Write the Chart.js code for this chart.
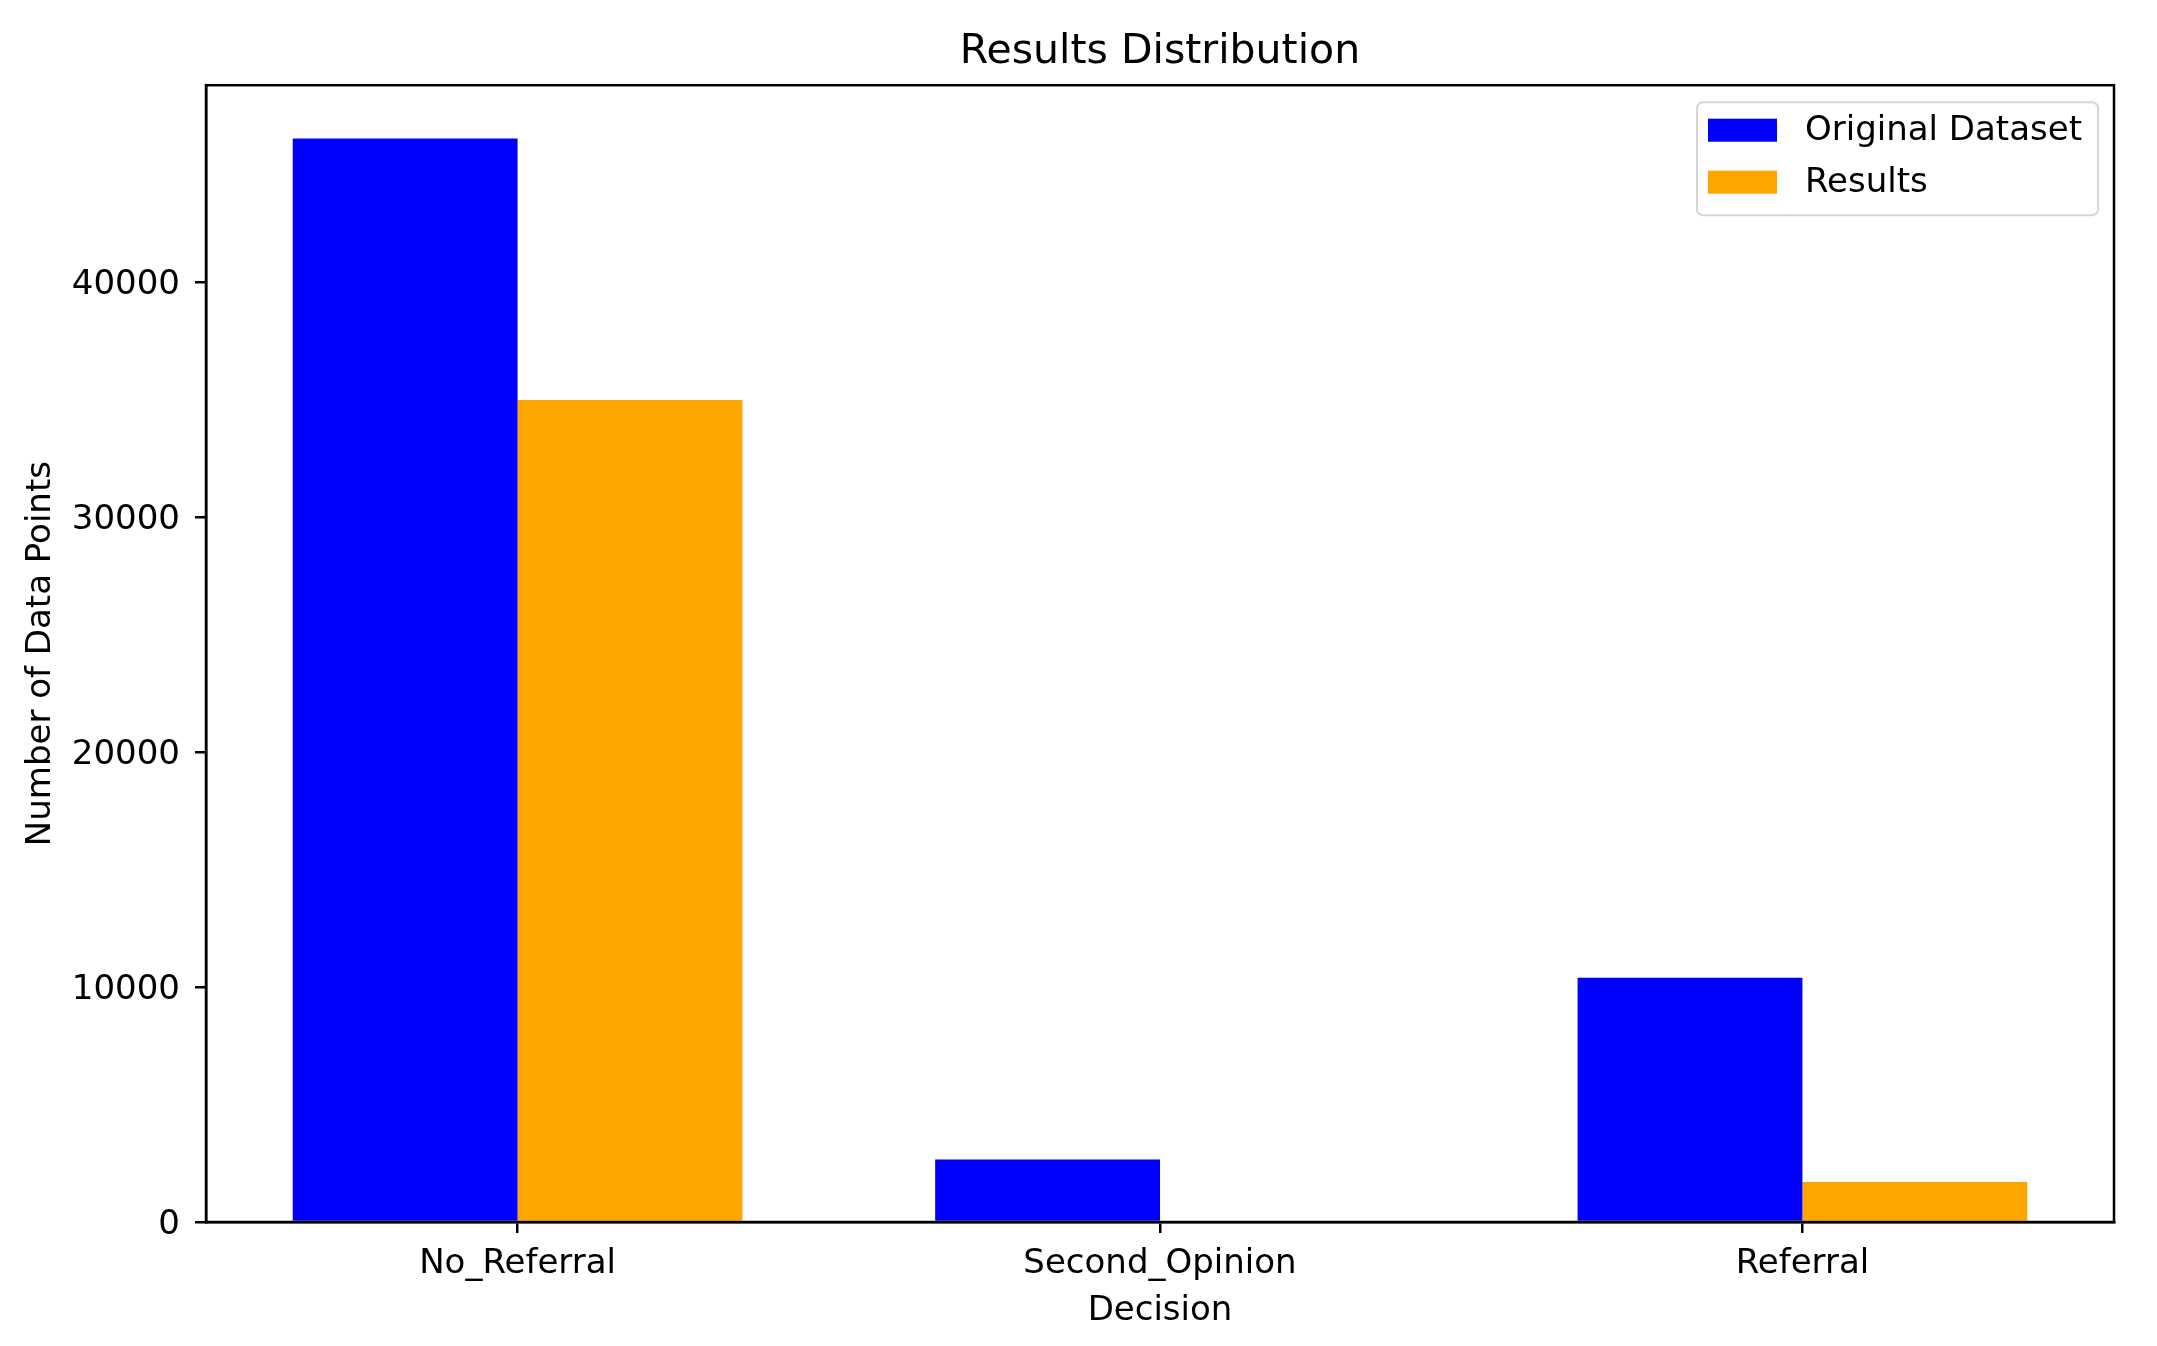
<!DOCTYPE html>
<html>
<head>
<meta charset="utf-8">
<script src="https://cdn.jsdelivr.net/npm/chart.js@4/dist/chart.umd.min.js"></script>
<style>
  html, body { margin: 0; padding: 0; background: #fff; }
  #wrap { width: 2157px; height: 1346px; position: relative; }
</style>
</head>
<body>
<div id="wrap"><canvas id="c" width="2157" height="1346"></canvas></div>
<script>
const categories = ['No_Referral', 'Second_Opinion', 'Referral'];
const seriesNames = ['Original Dataset', 'Results'];
const originalDataset = [46130, 2660, 10400];
const results = [35000, 0, 1700];
const yTicks = [0, 10000, 20000, 30000, 40000];

Chart.defaults.font.family = "'DejaVu Sans', sans-serif";
Chart.defaults.color = '#000';

const FS = 34;

const framePlugin = {
  id: 'frame',
  afterDatasetsDraw(chart) {
    const { ctx, chartArea: a } = chart;
    ctx.save();
    ctx.strokeStyle = '#000';
    ctx.lineWidth = 2.5;
    ctx.strokeRect(a.left, a.top, a.right - a.left, a.bottom - a.top);
    ctx.restore();
  }
};

const boxLegend = {
  id: 'boxLegend',
  afterDraw(chart) {
    const { ctx, chartArea: a } = chart;
    const w = 401, h = 113;
    const x = a.right - 16 - w, y = a.top + 17;
    ctx.save();
    ctx.beginPath();
    ctx.roundRect(x, y, w, h, 6);
    ctx.fillStyle = 'rgba(255,255,255,0.8)';
    ctx.fill();
    ctx.strokeStyle = 'rgba(204,204,204,0.8)';
    ctx.lineWidth = 2;
    ctx.stroke();
    ctx.font = FS + "px 'DejaVu Sans'";
    ctx.textBaseline = 'middle';
    ctx.textAlign = 'left';
    chart.data.datasets.forEach((ds, i) => {
      const cy = y + 28 + i * 52;
      ctx.fillStyle = ds.backgroundColor;
      ctx.fillRect(x + 11, cy - 11.5, 69, 23);
      ctx.fillStyle = '#000';
      ctx.fillText(ds.label, x + 108, cy + 1);
    });
    ctx.restore();
  }
};

new Chart(document.getElementById('c'), {
  type: 'bar',
  data: {
    datasets: [
      {
        label: seriesNames[0],
        data: categories.map((c, i) => ({ x: i, y: originalDataset[i] })),
        backgroundColor: '#0000ff'
      },
      {
        label: seriesNames[1],
        data: categories.map((c, i) => ({ x: i, y: results[i] })),
        backgroundColor: '#ffa500'
      }
    ]
  },
  options: {
    responsive: false,
    animation: false,
    categoryPercentage: 0.7,
    barPercentage: 1.0,
    layout: { padding: { left: 0, right: 43, top: 0, bottom: 0 } },
    plugins: {
      legend: { display: false },
      tooltip: { enabled: false },
      title: {
        display: true,
        fullSize: false,
        text: 'Results Distribution',
        font: { size: 41, weight: 'normal' },
        color: '#000',
        padding: { top: 28, bottom: 8 }
      }
    },
    scales: {
      x: {
        type: 'linear',
        offset: false,
        min: -0.485,
        max: 2.485,
        afterBuildTicks: (s) => { s.ticks = categories.map((c, i) => ({ value: i })); },
        afterFit: (s) => { s.height = 124; },
        ticks: {
          callback: (v) => categories[v],
          font: { size: FS },
          color: '#000',
          padding: 11,
          maxRotation: 0,
          autoSkip: false
        },
        grid: { display: true, offset: false, drawOnChartArea: false, drawTicks: true, tickLength: 11, color: '#000', lineWidth: 2.5 },
        border: { display: true, color: '#000', width: 2.5 },
        title: { display: true, text: 'Decision', font: { size: FS }, color: '#000', padding: { top: 0, bottom: 14 } }
      },
      y: {
        min: 0,
        max: 48400,
        afterBuildTicks: (s) => { s.ticks = yTicks.map(v => ({ value: v })); },
        afterFit: (s) => { s.width = 206; },
        ticks: {
          font: { size: FS },
          color: '#000',
          padding: 15,
          labelOffset: 3,
          callback: (v) => String(v)
        },
        grid: { display: true, drawOnChartArea: false, drawTicks: true, tickLength: 11, color: '#000', lineWidth: 2.5 },
        border: { display: true, color: '#000', width: 2.5 },
        title: { display: true, text: 'Number of Data Points', font: { size: FS }, color: '#000', padding: { top: 21, bottom: 0 } }
      }
    }
  },
  plugins: [framePlugin, boxLegend]
});
</script>
</body>
</html>
